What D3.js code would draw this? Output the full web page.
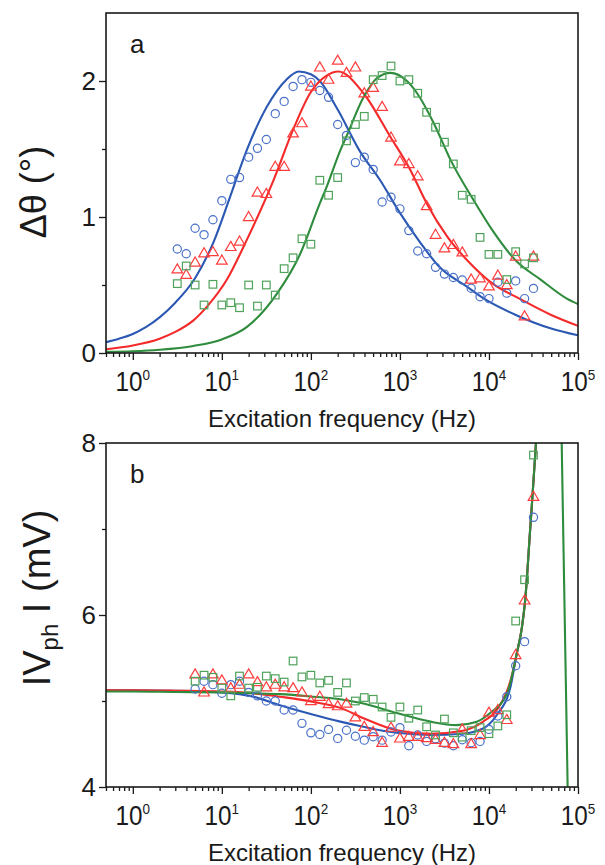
<!DOCTYPE html>
<html><head><meta charset="utf-8">
<script src="https://cdn.jsdelivr.net/npm/d3@7/dist/d3.min.js"></script>
<style>
body{margin:0;background:#fff}
svg{display:block}
text{font-family:"Liberation Sans",Arial,Helvetica,sans-serif;fill:#1a1a1a}
</style>
</head><body>
<svg id="chart" width="605" height="865"></svg>
<script>
// ---------- DATA ----------
const freqs = [3.16,3.98,5.01,6.31,7.94,10,12.6,15.8,20,25.1,31.6,39.8,50.1,63.1,79.4,100,126,158,200,251,316,398,501,631,794,1000,1259,1585,1995,2512,3162,3981,5012,6310,7943,10000,12589,15849,19953,25119,31623];

// Panel a: phase shift (deg)
const aBlue  = [0.765,0.73,0.917,0.87,0.98,1.12,1.277,1.29,1.44,1.505,1.57,1.76,1.85,1.96,2.01,1.99,1.93,1.88,1.68,1.60,1.40,1.44,1.35,1.11,1.145,1.06,0.90,0.75,0.73,0.63,0.58,0.555,0.537,0.476,0.414,0.40,0.52,0.44,0.53,0.40,0.475];
const aRed   = [0.615,0.575,0.665,0.733,0.743,0.68,0.78,0.82,1.0,1.18,1.17,1.37,1.37,1.615,1.69,1.96,2.10,2.01,2.15,2.06,2.10,1.91,1.95,1.81,1.585,1.41,1.39,1.30,1.08,0.87,0.77,0.795,0.74,0.54,0.55,0.49,0.57,0.50,0.71,0.27,0.71];
const aGreen = [0.51,0.64,0.50,0.353,0.505,0.353,0.37,0.333,0.50,0.345,0.50,0.426,0.62,0.70,0.84,0.80,1.27,1.16,1.29,1.56,1.68,1.74,2.01,2.04,2.11,2.0,2.01,1.91,1.77,1.66,1.55,1.39,1.16,1.13,0.85,0.725,0.725,0.54,0.745,0.655,0.70];

const aFitBlueF  = [0.5,0.7,1,1.4,2,3,5,8,12.4,19,32,53,73,100,126,200,350,600,1000,1700,2800,5600,9300,20000,50000,100000];
const aFitBlueV  = [0.08,0.105,0.14,0.19,0.262,0.37,0.55,0.81,1.15,1.49,1.81,2.01,2.07,2.05,2.0,1.79,1.49,1.27,1.03,0.81,0.63,0.49,0.39,0.28,0.18,0.13];
const aFitRedF   = [0.5,1,2,3,4.8,7,11.4,19,38,63,98,150,203,390,780,1300,2000,3400,6700,11000,22000,50000,100000];
const aFitRedV   = [0.028,0.055,0.105,0.155,0.24,0.35,0.54,0.83,1.27,1.64,1.91,2.04,2.07,1.91,1.59,1.35,1.10,0.855,0.635,0.51,0.40,0.28,0.2];
const aFitGreenF = [0.5,1,2,4.8,10,19,42,76,126,150,214,250,390,550,780,1200,1560,2400,3700,6700,11000,20000,38000,75000,100000];
const aFitGreenV = [0.008,0.013,0.024,0.052,0.1,0.19,0.44,0.73,1.10,1.22,1.49,1.59,1.88,2.02,2.06,2.0,1.91,1.69,1.42,1.125,0.9,0.68,0.54,0.40,0.36];

// Panel b: |Vph| (mV), measured from 5 Hz upward
const bFreqs = freqs.slice(2);
const bBlue  = [5.14,5.23,5.19,5.09,5.19,5.23,5.10,5.06,5.00,5.00,4.895,4.895,4.74,4.63,4.61,4.67,4.565,4.66,4.59,4.545,4.585,4.545,4.64,4.69,4.48,4.605,4.53,4.56,4.51,4.48,4.55,4.515,4.53,4.67,4.825,5.05,5.41,5.69,7.136];
const bRed   = [5.31,5.10,5.31,5.24,5.15,5.19,5.31,5.22,5.16,5.19,5.16,5.15,5.10,5.00,5.05,4.965,4.94,4.97,4.81,4.70,4.64,4.515,4.69,4.565,4.585,4.585,4.57,4.55,4.515,4.50,4.67,4.50,4.605,4.865,4.895,4.78,5.535,6.17,7.375];
const bGreen = [5.23,5.30,5.275,5.15,5.06,5.29,5.15,5.16,5.29,5.26,5.22,5.465,5.28,5.30,5.21,5.24,5.10,5.21,5.00,5.04,5.02,4.93,4.81,4.93,4.80,4.895,4.70,4.605,4.79,4.63,4.58,4.655,4.69,4.62,4.71,4.84,5.93,6.41,7.86];

const bFitBlueF  = [0.5,1,3,10,22.6,45,107,214,390,923,2200,5100,8600,12300,17500,20500,23400,25500,29000,33900,36000];
const bFitBlueV  = [5.125,5.125,5.12,5.10,5.05,4.95,4.84,4.76,4.70,4.63,4.605,4.62,4.68,4.84,5.17,5.55,5.85,6.17,6.99,8.03,8.5];
const bFitRedF   = [0.5,1,3,10,22.6,45,107,214,390,923,2200,5100,8600,12300,17500,20500,23400,25500,29000,33900,36000];
const bFitRedV   = [5.125,5.125,5.12,5.11,5.09,5.05,4.99,4.92,4.80,4.66,4.62,4.655,4.76,4.90,5.24,5.55,5.85,6.17,6.99,8.03,8.5];
const bFitGreenF = [0.5,1,3,10,22.6,45,107,214,390,923,2200,4300,7300,10300,16000,20500,23400,25500,29000,33900,36000];
const bFitGreenV = [5.11,5.11,5.105,5.10,5.09,5.08,5.05,5.02,4.97,4.86,4.76,4.72,4.76,4.86,5.09,5.55,5.85,6.17,6.99,8.03,8.5];
const bPoleGreenF = [65600,76500];
const bPoleGreenV = [8.0,4.0];

const xMajor = [1,10,100,1000,10000,100000];
const xMajorExp = ["0","1","2","3","4","5"];
const aYMajor = [0,1,2], aYMinor = [0.5,1.5];
const bYMajor = [4,6,8], bYMinor = [5,7];

// ---------- STYLE ----------
const lineCol = {blue:"#2b58b3", red:"#f42a2a", green:"#2e8c3c"};
const markCol = {blue:"#4a72c9", red:"#ff3c3c", green:"#4fa25a"};

const svg = d3.select("#chart");
const x = d3.scaleLog().domain([0.5,1e5]).range([106,578]);
const xMinor = x.ticks().filter(t => !xMajor.includes(t));

function zip(f,v){ return f.map((d,i)=>[d,v[i]]); }

function panel(id, y, yMajor, yMinor, fits, marks, label){
  const top = y.range()[1], bot = y.range()[0];
  const g = svg.append("g");
  g.append("clipPath").attr("id","clip"+id).append("rect")
    .attr("x",106).attr("y",top).attr("width",472).attr("height",bot-top);
  const plot = g.append("g").attr("clip-path",`url(#clip${id})`);
  const line = d3.line().x(d=>x(d[0])).y(d=>y(d[1])).curve(d3.curveMonotoneX);
  fits.forEach(f=>{
    plot.append("path").attr("d",line(f.pts)).attr("fill","none")
      .attr("stroke",lineCol[f.c]).attr("stroke-width",2.1);
  });
  marks.forEach(m=>{
    const pts = zip(m.f,m.v);
    const sel = plot.selectAll(null).data(pts).enter();
    if(m.shape==="circle"){
      sel.append("circle").attr("cx",d=>x(d[0])).attr("cy",d=>y(d[1])).attr("r",4.1)
        .attr("fill","none").attr("stroke",markCol[m.c]).attr("stroke-width",1.2);
    } else if(m.shape==="tri"){
      sel.append("path").attr("d",d=>{const cx=x(d[0]),cy=y(d[1]);
          return `M${cx},${cy-5.5}L${cx+5.3},${cy+3.6}L${cx-5.3},${cy+3.6}Z`;})
        .attr("fill","none").attr("stroke",markCol[m.c]).attr("stroke-width",1.2);
    } else {
      sel.append("rect").attr("x",d=>x(d[0])-3.8).attr("y",d=>y(d[1])-3.8)
        .attr("width",7.6).attr("height",7.6)
        .attr("fill","none").attr("stroke",markCol[m.c]).attr("stroke-width",1.2);
    }
  });
  // box
  g.append("rect").attr("x",106).attr("y",top).attr("width",472).attr("height",bot-top)
    .attr("fill","none").attr("stroke","#1a1a1a").attr("stroke-width",1.6);
  // x axis ticks
  const axMin = g.append("g").attr("transform",`translate(0,${bot})`)
    .call(d3.axisBottom(x).tickValues(xMinor).tickSize(4).tickFormat(""));
  const axMaj = g.append("g").attr("transform",`translate(0,${bot})`)
    .call(d3.axisBottom(x).tickValues(xMajor).tickSize(7).tickFormat(""));
  [axMin,axMaj].forEach(a=>{a.select(".domain").remove();
    a.selectAll("line").attr("stroke","#1a1a1a").attr("stroke-width",1.3);});
  xMajor.forEach((t,i)=>{
    const tx = g.append("text").attr("transform",`translate(${x(t)},${bot+38}) scale(0.9,1)`)
      .attr("text-anchor","middle").style("font-size","27px");
    tx.append("tspan").text("10");
    tx.append("tspan").attr("dy",-11).style("font-size","15px").text(xMajorExp[i]);
  });
  // y axis ticks
  const yMin = g.append("g").attr("transform","translate(106,0)")
    .call(d3.axisLeft(y).tickValues(yMinor).tickSize(4).tickFormat(""));
  const yMaj = g.append("g").attr("transform","translate(106,0)")
    .call(d3.axisLeft(y).tickValues(yMajor).tickSize(7).tickFormat(""));
  [yMin,yMaj].forEach(a=>{a.select(".domain").remove();
    a.selectAll("line").attr("stroke","#1a1a1a").attr("stroke-width",1.3);});
  yMajor.forEach(t=>{
    g.append("text").attr("x",96).attr("y",y(t)).attr("dy","0.36em")
      .attr("text-anchor","end").style("font-size","26px").text(d3.format("d")(t));
  });
  // x label
  g.append("text").attr("x",342).attr("y",bot+74).attr("text-anchor","middle")
    .style("font-size","24px").text("Excitation frequency (Hz)");
  // panel letter
  g.append("text").attr("x",130).attr("y",top+40).style("font-size","26px").text(label);
}

const yA = d3.scaleLinear().domain([0,2.5]).range([353,13]);
const yB = d3.scaleLinear().domain([4,8]).range([787,443]);

panel("a", yA, aYMajor, aYMinor,
  [{c:"blue",pts:zip(aFitBlueF,aFitBlueV)},{c:"red",pts:zip(aFitRedF,aFitRedV)},{c:"green",pts:zip(aFitGreenF,aFitGreenV)}],
  [{c:"blue",shape:"circle",f:freqs,v:aBlue},{c:"red",shape:"tri",f:freqs,v:aRed},{c:"green",shape:"square",f:freqs,v:aGreen}],
  "a");

panel("b", yB, bYMajor, bYMinor,
  [{c:"blue",pts:zip(bFitBlueF,bFitBlueV)},{c:"red",pts:zip(bFitRedF,bFitRedV)},{c:"green",pts:zip(bFitGreenF,bFitGreenV)},{c:"green",pts:zip(bPoleGreenF,bPoleGreenV)}],
  [{c:"blue",shape:"circle",f:bFreqs,v:bBlue},{c:"red",shape:"tri",f:bFreqs,v:bRed},{c:"green",shape:"square",f:bFreqs,v:bGreen}],
  "b");

// y axis titles
svg.append("text").attr("transform","translate(46,192) rotate(-90)")
  .attr("text-anchor","middle").style("font-size","36px").text("Δθ (°)");
const yl = svg.append("text").attr("transform","translate(50,598) rotate(-90)")
  .attr("text-anchor","middle").style("font-size","38px");
yl.append("tspan").text("IV");
yl.append("tspan").attr("dy",8).style("font-size","24px").text("ph");
yl.append("tspan").attr("dy",-8).text(" I (mV)");
</script>
</body></html>
